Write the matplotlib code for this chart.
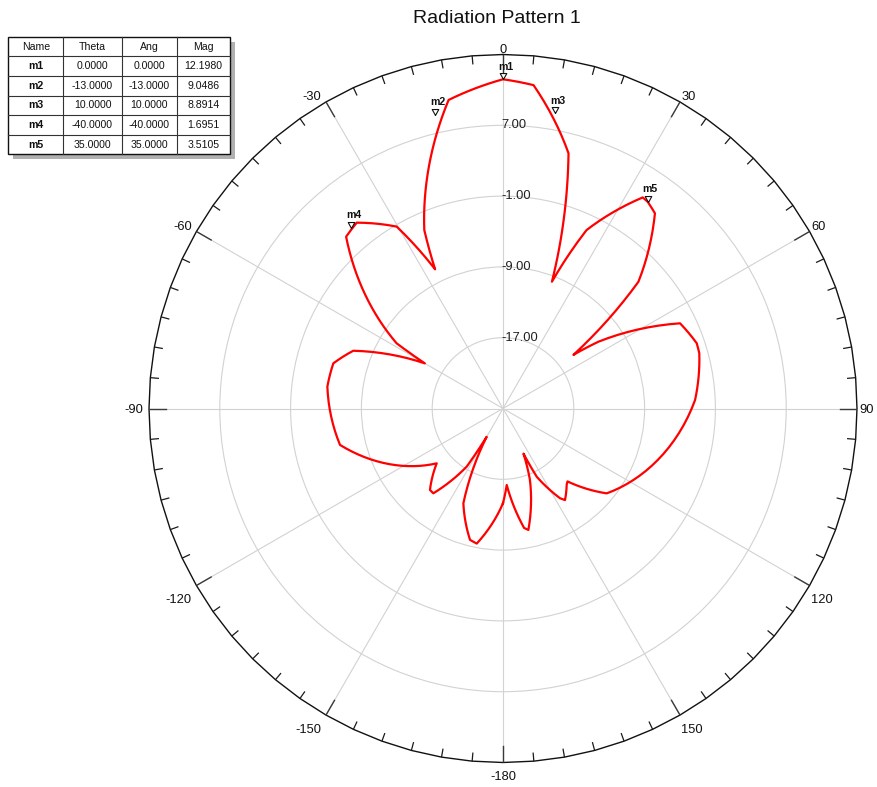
import numpy as np
import matplotlib
matplotlib.use('Agg')
import matplotlib.pyplot as plt
from matplotlib.patches import Rectangle

plt.rcParams['font.family'] = ['Liberation Sans', 'DejaVu Sans']

# radiation pattern samples: angle in degrees (clockwise from top), gain in dB
theta_deg = [-180, -178.4, -176.2, -174.3, -171.6, -169, -165.9, -162.6, -159.1, -157.3,
             -155.1, -151.5, -150, -148, -146.4, -145.4, -142.7, -140.6, -138.1, -135.7,
             -133.5, -129.6, -125, -123.2, -121.5, -119.1, -116, -111.6, -107.5, -102.6,
             -98.4, -93.8, -87.2, -82.9, -79.6, -75.1, -72.4, -68.9, -66.8, -64.5,
             -62.9, -61.5, -60, -59.5, -58.5, -57.1, -55.4, -53.9, -52.1, -49.3,
             -47.2, -44.9, -42.4, -40, -38.2, -35.2, -32.7, -30.3, -29.1, -27.6,
             -26, -25.4, -24.8, -23.8, -22.6, -21.25, -19.9, -18.1, -16.5, -14.8,
             -13, -10, -6.5, -3, 0, 3, 5.4, 7.5, 10, 12.1,
             13.3, 14.4, 15.9, 17.1, 18.1, 18.9, 19.4, 20.3, 21.1, 22.0,
             23.5, 25.1, 26.8, 28.3, 30.2, 31.2, 32.1, 33.5, 35, 36.7,
             37.9, 40.6, 43.2, 45, 46.1, 46.9, 48.7, 49.7, 51, 52.1,
             52.7, 55, 56.9, 57.6, 60.1, 62.3, 64.3, 67.7, 71.4, 74.3,
             78, 81.7, 87.5, 92.5, 98, 100.7, 106.3, 109.9, 115.3, 119,
             121.6, 125.4, 129.3, 132.5, 136.8, 138.5, 140, 142.7, 145.9, 147.6,
             151, 153.7, 155.6, 157.5, 159.3, 163, 165.8, 168.2, 170, 172,
             177.2, 180]
gain_db = [-14.3, -13.15, -11.3, -10.26, -9.65, -9.45, -9.7, -10.6, -11.9, -13.4,
           -15.5, -17.96, -21.3, -17.25, -15.0, -13.8, -12.95, -12.6, -12.64, -13.2,
           -14.1, -15.28, -13.5, -12.45, -11.35, -9.96, -8.7, -7.62, -6.88, -6.13,
           -5.81, -5.41, -5.24, -5.0, -5.05, -5.16, -5.68, -6.87, -8.24, -9.9,
           -11.5, -13.0, -14.8, -12.37, -10.9, -9.35, -7.42, -5.46, -3.8, -2.19,
           -0.85, 0.29, 1.29, 1.7, 1.72, 1.07, 0.05, -1.2, -2.99, -4.8,
           -7.5, -6.21, -4.9, -2.96, -1.1, 1.09, 2.86, 4.93, 6.6, 8.13,
           9.05, 10.4, 11.4, 12.0, 12.2, 12.0, 11.7, 10.6, 8.89, 7.56,
           6.2, 4.77, 2.6, 0.45, -1.8, -3.69, -5.0, -7.51, -9.64, -7.31,
           -5.07, -2.73, -0.72, 1.33, 2.78, 3.14, 3.46, 3.6, 3.51, 3.3,
           2.95, 1.56, 0.08, -1.25, -2.6, -4.05, -6.4, -8.66, -10.9, -13.0,
           -15.0, -11.85, -8.77, -6.67, -4.96, -3.68, -2.8, -2.15, -1.9, -1.96,
           -2.24, -2.58, -3.28, -4.04, -4.8, -5.8, -6.9, -7.34, -7.87, -7.95,
           -8.15, -8.77, -9.86, -11.66, -13.4, -14.0, -13.8, -13.4, -12.5, -13.0,
           -14.04, -16.4, -19.4, -17.8, -16.4, -12.6, -11.03, -10.98, -11.3, -13.8,
           -16.35, -14.3]
assert len(theta_deg) == len(gain_db), (len(theta_deg), len(gain_db))

# marker table
marker_names = ['m1', 'm2', 'm3', 'm4', 'm5']
marker_theta = [0.0, -13.0, 10.0, -40.0, 35.0]
marker_ang = [0.0, -13.0, 10.0, -40.0, 35.0]
marker_mag = [12.1980, 9.0486, 8.8914, 1.6951, 3.5105]
table_header = ['Name', 'Theta', 'Ang', 'Mag']

r_min, r_max = -25.0, 15.0
r_ticks = [-17.0, -9.0, -1.0, 7.0]
angle_ticks = list(range(-180, 180, 30))

W, H = 878, 787
PT = 0.72  # points per pixel at dpi 100
fig = plt.figure(figsize=(W / 100, H / 100), dpi=100)

# polar chart, centre and radius in pixels
cx, cy, R = 503, 408.5, 354
db_per_px = (r_max - r_min) / R
ax = fig.add_axes([(cx - R) / W, (H - cy - R) / H, 2 * R / W, 2 * R / H],
                  projection='polar')
ax.set_theta_zero_location('N')
ax.set_theta_direction(-1)
ax.set_ylim(r_min, r_max)
ax.set_yticks(r_ticks)
ax.set_yticklabels([])
ax.set_xticks(np.deg2rad(np.arange(0, 360, 30)))
ax.set_xticklabels([])
ax.tick_params(axis='both', length=0)
ax.grid(True, color='#d2d2d2', lw=0.8)
ax.spines['polar'].set_visible(False)

# outer rim as a polygon through the 5 degree ticks, with inward ticks
rim_deg = np.arange(0, 361, 5)
rim_t = np.deg2rad(rim_deg)
ax.plot(rim_t, np.full(rim_t.shape, r_max), color='#111111', lw=1.0,
        clip_on=False, zorder=4)
for d in rim_deg[:-1]:
    major = d % 30 == 0
    tick_len = 17 if major else 8
    ax.plot([np.deg2rad(d)] * 2, [r_max, r_max - tick_len * db_per_px],
            color='#3a3a3a' if major else '#1a1a1a', lw=1.0 if major else 0.9,
            zorder=4)

# pattern curve
curve, = ax.plot(np.deg2rad(theta_deg), gain_db, color='#ff0000', lw=1.6, zorder=3)
curve.get_path()._interpolation_steps = 16

# radial labels along 0 degrees
for r in r_ticks:
    ax.annotate(f'{r:.2f}', xy=(0, r), xytext=(-1.5 * PT, 0),
                textcoords='offset points', ha='left', va='center',
                fontsize=9.3, color='#202020', annotation_clip=False)

# angle labels
for a in angle_ticks:
    s, c = np.sin(np.deg2rad(a)), np.cos(np.deg2rad(a))
    if s < -0.1:
        ha, dx = 'right', -5.5 if abs(c) < 0.1 else -4.5
    elif s > 0.1:
        ha, dx = 'left', 2.5 if abs(c) < 0.1 else 1.5
    else:
        ha, dx = 'center', 0
    if c > 0.1:
        va, dy = 'baseline', 1.5
    elif c < -0.1:
        va, dy = 'top', -9
    else:
        va, dy = 'center_baseline', 0
    ax.annotate(str(a), xy=(np.deg2rad(a), r_max), xytext=(dx * PT, dy * PT),
                textcoords='offset points', ha=ha, va=va, fontsize=9.3,
                color='#111111', annotation_clip=False)

# markers: downward triangles with tip on the curve
tri = [(0, 0), (-0.55, 1), (0.55, 1), (0, 0)]
ax.plot(np.deg2rad(marker_theta), marker_mag, ls='none', marker=tri, ms=8.6,
        mfc='white', mec='#111111', mew=0.8, clip_on=False, zorder=5)
for name, t, m in zip(marker_names, marker_theta, marker_mag):
    ax.annotate(name, xy=(np.deg2rad(t), m), xytext=(2.5 * PT, 12.5 * PT),
                textcoords='offset points', ha='center', va='center',
                fontsize=7.6, fontweight='bold', color='#111111',
                annotation_clip=False, zorder=6)

fig.text(497 / W, 1 - 18.5 / H, 'Radiation Pattern 1', ha='center', va='center',
         fontsize=14, color='#111111')

# marker table in pixel coordinates
tax = fig.add_axes([0, 0, 1, 1], zorder=10)
tax.set_xlim(0, W)
tax.set_ylim(H, 0)
tax.axis('off')
tax.patch.set_alpha(0)

col_x = [8.3, 63.3, 121.7, 176.7, 230]
row_top, row_h = 36.7, 19.6
n_rows = len(marker_names) + 1
tw, th = col_x[-1] - col_x[0], row_h * n_rows
tax.add_patch(Rectangle((col_x[0] + 5, row_top + 5), tw, th, color='#b0b0b0', lw=0))
tax.add_patch(Rectangle((col_x[0], row_top), tw, th, facecolor='white',
                        edgecolor='#111111', lw=1.0))
for x in col_x[1:-1]:
    tax.plot([x, x], [row_top, row_top + th], color='#333333', lw=0.8)
for i in range(1, n_rows):
    y = row_top + i * row_h
    tax.plot([col_x[0], col_x[-1]], [y, y], color='#333333', lw=0.8)

rows = [table_header] + [[n, f'{t:.4f}', f'{a:.4f}', f'{m:.4f}']
                         for n, t, a, m in zip(marker_names, marker_theta,
                                               marker_ang, marker_mag)]
for i, row in enumerate(rows):
    yc = row_top + (i + 0.5) * row_h
    for j, txt in enumerate(row):
        xc = (col_x[j] + col_x[j + 1]) / 2
        bold = (j == 0 and i > 0)
        tax.text(xc, yc, txt, ha='center', va='center', fontsize=7.6,
                 fontweight='bold' if bold else 'normal', color='#111111')

fig.savefig('out.png', dpi=100)
